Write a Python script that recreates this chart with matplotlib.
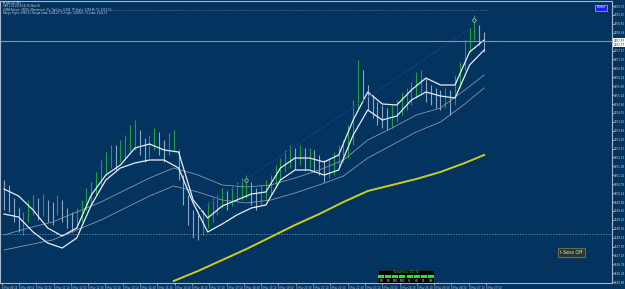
import matplotlib.pyplot as plt
from matplotlib.patches import Rectangle

# M5 bars
highs = [2351.00, 2350.75, 2350.10, 2349.60, 2349.40, 2350.00, 2350.25, 2350.10, 2350.30, 2350.00,
         2349.90, 2350.25, 2350.00, 2349.60, 2349.40, 2349.60, 2350.00, 2350.60, 2350.90, 2351.40,
         2352.00, 2352.40, 2352.75, 2352.75, 2353.00, 2353.25, 2353.75, 2354.00, 2353.50, 2353.10,
         2353.25, 2353.60, 2353.40, 2353.00, 2353.35, 2353.50, 2352.50, 2351.25, 2350.25, 2349.50,
         2349.25, 2349.50, 2349.90, 2350.10, 2350.25, 2350.60, 2350.50, 2350.70, 2350.90, 2351.10,
         2351.25, 2350.90, 2350.60, 2350.75, 2351.00, 2351.25, 2351.75, 2352.10, 2352.50, 2352.75,
         2352.60, 2352.75, 2352.60, 2352.60, 2352.50, 2352.25, 2352.00, 2352.10, 2352.40, 2352.75,
         2353.00, 2353.75, 2355.00, 2357.00, 2356.50, 2355.75, 2355.25, 2354.90, 2354.75, 2354.60,
         2354.75, 2355.00, 2355.40, 2355.60, 2355.90, 2356.40, 2356.50, 2356.10, 2355.75, 2355.60,
         2355.50, 2355.60, 2355.50, 2356.25, 2356.90, 2358.00, 2358.60, 2359.25, 2358.75, 2358.40]
lows = [2349.50, 2349.40, 2348.90, 2348.40, 2348.25, 2348.90, 2349.25, 2349.00, 2349.20, 2348.90,
        2348.75, 2349.25, 2348.90, 2348.60, 2348.40, 2348.60, 2348.90, 2349.50, 2349.75, 2350.25,
        2350.75, 2351.25, 2351.60, 2351.50, 2351.90, 2352.10, 2352.40, 2352.50, 2352.25, 2351.90,
        2352.10, 2352.50, 2352.25, 2351.90, 2352.25, 2352.40, 2351.00, 2349.75, 2348.75, 2348.10,
        2348.00, 2348.25, 2348.60, 2348.90, 2349.25, 2349.60, 2349.50, 2349.70, 2349.90, 2350.00,
        2350.10, 2349.75, 2349.50, 2349.75, 2350.00, 2350.25, 2350.60, 2351.00, 2351.40, 2351.60,
        2351.50, 2351.75, 2351.50, 2351.60, 2351.40, 2351.25, 2350.90, 2351.10, 2351.25, 2351.60,
        2351.90, 2352.10, 2352.75, 2354.50, 2355.00, 2354.50, 2354.10, 2353.75, 2353.60, 2353.50,
        2353.60, 2353.90, 2354.25, 2354.50, 2354.75, 2355.10, 2355.25, 2354.90, 2354.75, 2354.60,
        2354.50, 2354.60, 2354.25, 2354.75, 2355.60, 2356.50, 2357.40, 2358.00, 2357.75, 2357.40]
direction = ("DDDDUUUDUD" "DUDDDUUUUU" "UUUDUUUUDD" "UUDDUUDDDD" "DUUUUUDUUU"
             "UDDUUUUUUU" "DUDUDDDUUU" "UUUUDDDDDD" "UUUUUUUDDD" "DUDUUUUUDD")

# fast envelope (white lines), every 3rd bar
fast_idx = list(range(0, 100, 3))
fast_upper = [2350.55, 2350.20, 2349.50, 2348.60, 2348.20, 2348.60, 2350.25, 2351.25, 2351.75, 2352.60,
              2352.80, 2352.50, 2352.40, 2350.00, 2349.10, 2349.70, 2350.00, 2350.30, 2350.40, 2351.60,
              2352.10, 2352.10, 2351.90, 2352.25, 2354.00, 2355.40, 2354.80, 2354.75, 2355.50, 2356.10,
              2355.75, 2355.75, 2357.40, 2358.00]
fast_lower = [2349.30, 2349.15, 2348.40, 2347.85, 2347.60, 2348.10, 2349.75, 2351.00, 2351.60, 2351.85,
              2352.00, 2352.00, 2351.60, 2349.85, 2348.40, 2348.80, 2349.25, 2349.60, 2349.75, 2351.00,
              2351.50, 2351.50, 2351.25, 2351.50, 2353.25, 2354.50, 2354.00, 2354.20, 2355.00, 2355.40,
              2355.20, 2355.10, 2356.75, 2357.50]

# slow envelope (dim lines)
slow_idx = [0, 5, 10, 15, 20, 25, 30, 35, 40, 45, 50, 55, 60, 65, 70, 75, 80, 85, 90, 95, 99]
slow_upper = [2348.25, 2348.60, 2348.90, 2349.40, 2349.90, 2350.50, 2351.10, 2351.60, 2351.25, 2350.75,
              2350.65, 2350.75, 2351.10, 2351.50, 2352.00, 2353.00, 2353.60, 2354.25, 2354.60, 2355.50, 2356.25]
slow_lower = [2347.50, 2347.75, 2348.00, 2348.50, 2349.00, 2349.60, 2350.20, 2350.70, 2350.40, 2350.00,
              2349.85, 2350.00, 2350.35, 2350.75, 2351.20, 2352.10, 2352.75, 2353.40, 2353.90, 2354.80, 2355.60]

# long MA (yellow)
long_idx = [35, 40, 45, 50, 55, 60, 65, 70, 75, 80, 85, 90, 95, 99]
long_ma = [2345.95, 2346.45, 2347.00, 2347.55, 2348.15, 2348.75, 2349.30, 2349.90, 2350.45, 2350.75,
           2351.05, 2351.40, 2351.85, 2352.25]

signal_idx = [50, 97]
signal_price = [2351.00, 2359.00]

trend_line_idx = [40.4, 96.1]
trend_line_price = [2349.50, 2358.57]

ask_price = 2357.97
bid_price = 2357.77
level_price = 2348.30
top_level_price = 2359.50

price_ticks = [2359.70 - 0.4455 * k for k in range(32)]
time_labels = []
for k in range(29):
    m = 9 * 60 + 10 + 40 * k
    time_labels.append("8 May %02d:%02d" % (m // 60, m % 60))

header = ["\u25bc XAUUSD,M5",
          "SAR 1.00 2350.52(15) Bias(3)",
          "LSMA Pattern: 39805, Momentum: No, Trailing: 12305, TP-Highs: 2358.96, TL: 2357.15",
          "Range Highs: 2360.23, Range Lows: 2348.27, TL-Highs: 2358.81, TL-Lows: 2346.73"]
tf_labels = ["M1", "M5", "M15", "M30", "H1", "H4", "D1", "MN"]

bg = "#03335f"
W, H = 625, 289
fig = plt.figure(figsize=(W / 100, H / 100), dpi=100, facecolor=bg)
ax = fig.add_axes([0, 6 / H, 611.5 / W, 282 / H], facecolor=bg)

xs = list(range(len(highs)))
up_x = [i for i in xs if direction[i] == "U"]
dn_x = [i for i in xs if direction[i] == "D"]
ax.vlines(dn_x, [lows[i] for i in dn_x], [highs[i] for i in dn_x], color="#8fa7c6", lw=0.8)
ax.vlines(up_x, [lows[i] for i in up_x], [highs[i] for i in up_x], color="#1fa040", lw=0.8)

ax.plot(slow_idx, slow_upper, color="#8797ad", lw=0.6)
ax.plot(slow_idx, slow_lower, color="#8797ad", lw=0.6)
ax.plot(fast_idx, fast_upper, color="#e8eef4", lw=0.9)
ax.plot(fast_idx, fast_lower, color="#e8eef4", lw=0.9)
ax.plot(long_idx, long_ma, color="#c9cf22", lw=1.4)
ax.plot(trend_line_idx, trend_line_price, color="#1a3c8c", lw=0.6)

ax.axhline(ask_price, color="#8298b0", lw=0.8)
ax.axhline(level_price, color="#8aa0b8", lw=0.5, ls=(0, (2, 2)))
ax.plot([21.9, 99.6], [top_level_price, top_level_price], color="#5a7fa8", lw=0.5, ls=(0, (2, 2)))
ax.scatter(signal_idx, signal_price, s=6, color="#1a2a50", edgecolor="#c0d0e8", linewidths=0.5, zorder=5)

ax.set_xlim(-0.825, 125.26)
ax.set_ylim(2345.85, 2359.95)

ax.yaxis.tick_right()
ax.set_yticks(price_ticks)
ax.set_yticklabels(["%.2f" % v for v in price_ticks])
ax.tick_params(axis="y", labelsize=2.0, colors="#c8d4e2", length=1.2, width=0.5, pad=0.6)
tick_pos = [(1.7 + 17.3 * k - 4) / 4.85 for k in range(29)]
ax.set_xticks(tick_pos)
ax.set_xticklabels(time_labels, ha="left")
ax.tick_params(axis="x", labelsize=1.8, colors="#c8d4e2", length=1.2, width=0.5, pad=0.6)
for s in ax.spines.values():
    s.set_color("#a8b8cc")
    s.set_linewidth(0.8)

for v in [ask_price, bid_price]:
    ax.annotate("%.2f" % v, xy=(1.003, v), xycoords=("axes fraction", "data"),
                fontsize=2.0, color="#10243c", va="center", ha="left",
                bbox=dict(boxstyle="square,pad=0.12", fc="white", ec="none"))

for k, line in enumerate(header):
    fig.text(3 / W, 1 - (3 + 3.4 * k) / H, line, fontsize=1.8, color="#d0dae6", va="center", ha="left")

# Demo button
fig.patches.append(Rectangle((595 / W, 1 - 10.5 / H), 11.5 / W, 6 / H, transform=fig.transFigure,
                             fc="#1d22e8", ec="#7f9cff", lw=0.6))
fig.text(600.7 / W, 1 - 7.5 / H, "Demo", fontsize=2.2, color="white", ha="center", va="center")

# sessions button
fig.patches.append(Rectangle((557.5 / W, 1 - 257 / H), 27.5 / W, 9.5 / H, transform=fig.transFigure,
                             fc="#26372f", ec="#6d6a48", lw=0.8))
fig.text(571.2 / W, 1 - 252.2 / H, "i-Sess Off", fontsize=3.4, color="#e4e4d8", ha="center", va="center")

# volatility panel
pax = fig.add_axes([377.7 / W, 1 - 282.7 / H, 56.6 / W, 12.7 / H], facecolor="black")
pax.set_xlim(0, 8)
pax.set_ylim(0, 3)
pax.axis("off")
pax.add_patch(Rectangle((0, 0), 8, 3, fc="black", ec="#303030", lw=0.5))
pax.text(4, 2.5, "Volatility: 41.16", fontsize=2.4, color="#22c022", ha="center", va="center")
for i, lab in enumerate(tf_labels):
    pax.add_patch(Rectangle((i + 0.08, 1.05), 0.84, 0.85, fc="#22e822", ec="none"))
    pax.text(i + 0.5, 0.5, lab, fontsize=1.9, color="#d0d0d0", ha="center", va="center")

fig.savefig("out.png", dpi=100, facecolor=bg)
